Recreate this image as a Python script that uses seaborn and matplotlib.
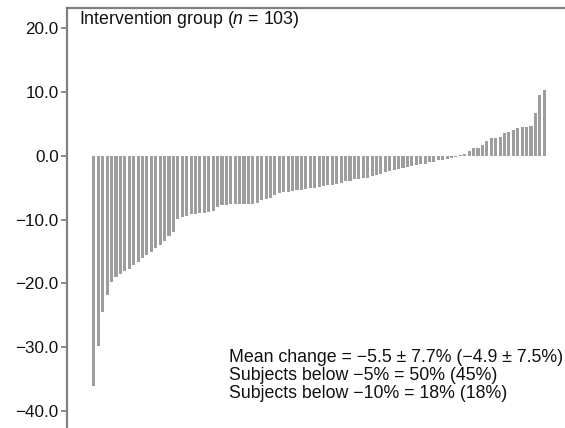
import numpy as np
import pandas as pd
import matplotlib
matplotlib.use("Agg")
import matplotlib.pyplot as plt
import seaborn as sns

# Percent change per subject, sorted from largest loss to largest gain
change = [
    -36.1, -29.8, -24.5, -21.9, -19.8, -19.0, -18.5, -18.1, -17.7, -17.2,
    -16.6, -16.1, -15.6, -15.1, -14.5, -14.0, -13.4, -12.6, -12.0,
    -9.9, -9.6, -9.4, -9.2, -9.1, -9.0, -8.9, -8.8, -8.6,
    -8.0, -7.7, -7.7, -7.6, -7.6, -7.6, -7.5, -7.5, -7.5, -7.4,
    -7.0, -6.8, -6.6, -6.2,
    -5.9, -5.7, -5.6, -5.5, -5.4, -5.3, -5.2, -5.1, -5.05,
    -4.9, -4.7, -4.6, -4.5, -4.4, -4.2, -4.0, -3.9, -3.7, -3.6,
    -3.5, -3.4, -3.2, -3.0, -2.8, -2.6, -2.4, -2.2, -2.0, -1.9,
    -1.7, -1.6, -1.4, -1.3, -1.2, -1.0, -0.9, -0.7, -0.6, -0.5, -0.3,
    -0.2, 0.1,
    0.3, 0.8, 1.2, 1.3, 1.7, 2.3, 2.8, 2.8, 2.9, 3.6, 3.8, 4.1, 4.4,
    4.5, 4.6, 4.7, 6.8, 9.6, 10.4,
]
subjects = [f"S{i + 1}" for i in range(len(change))]

y_ticks = [20.0, 10.0, 0.0, -10.0, -20.0, -30.0, -40.0]
title = "Intervention group ($\\mathit{n}$ = 103)"
summary = [
    "Mean change = \u22125.5 \u00b1 7.7% (\u22124.9 \u00b1 7.5%)",
    "Subjects below \u22125% = 50% (45%)",
    "Subjects below \u221210% = 18% (18%)",
]

sns.set_style("white")
plt.rcParams["font.family"] = ["Liberation Sans", "DejaVu Sans"]
plt.rcParams["mathtext.fontset"] = "custom"
plt.rcParams["mathtext.rm"] = "Liberation Sans"
plt.rcParams["mathtext.it"] = "Liberation Sans:italic"

df = pd.DataFrame({"subject": subjects, "change": change})

fig = plt.figure(figsize=(5.65, 4.28), dpi=100)
ax = fig.add_axes([67 / 565, 0.0, 1 - 67 / 565, 1 - 8 / 428])

sns.barplot(data=df, x="subject", y="change", order=subjects,
            color="#9d9d9d", saturation=1, width=0.7, ax=ax)
for p in ax.patches:
    p.set_edgecolor("none")

ax.set_xlim(-6.1, 106.7)
ax.set_ylim(-42.7, 23.2)
ax.set_yticks(y_ticks)
ax.set_yticklabels([f"{v:.1f}".replace("-", "\u2212") for v in y_ticks],
                   fontsize=12.3, color="#111111")
ax.set_xticks([])
ax.set_xlabel("")
ax.set_ylabel("")
ax.tick_params(axis="y", length=4, width=1.2, color="#777777",
               direction="out", left=True, pad=2)

for side in ("right", "bottom"):
    ax.spines[side].set_visible(False)
for side in ("left", "top"):
    ax.spines[side].set_color("#808080")
    ax.spines[side].set_linewidth(1.6)

ax.text(79 / 565, 1 - 20 / 428, title, transform=fig.transFigure,
        fontsize=12.8, va="center", ha="left", color="#111111")

for i, line in enumerate(summary):
    ax.text(229 / 565, 1 - (357 + 18.5 * i) / 428, line,
            transform=fig.transFigure, fontsize=12.8, va="center",
            ha="left", color="#111111")

fig.savefig("out.png", dpi=100)
